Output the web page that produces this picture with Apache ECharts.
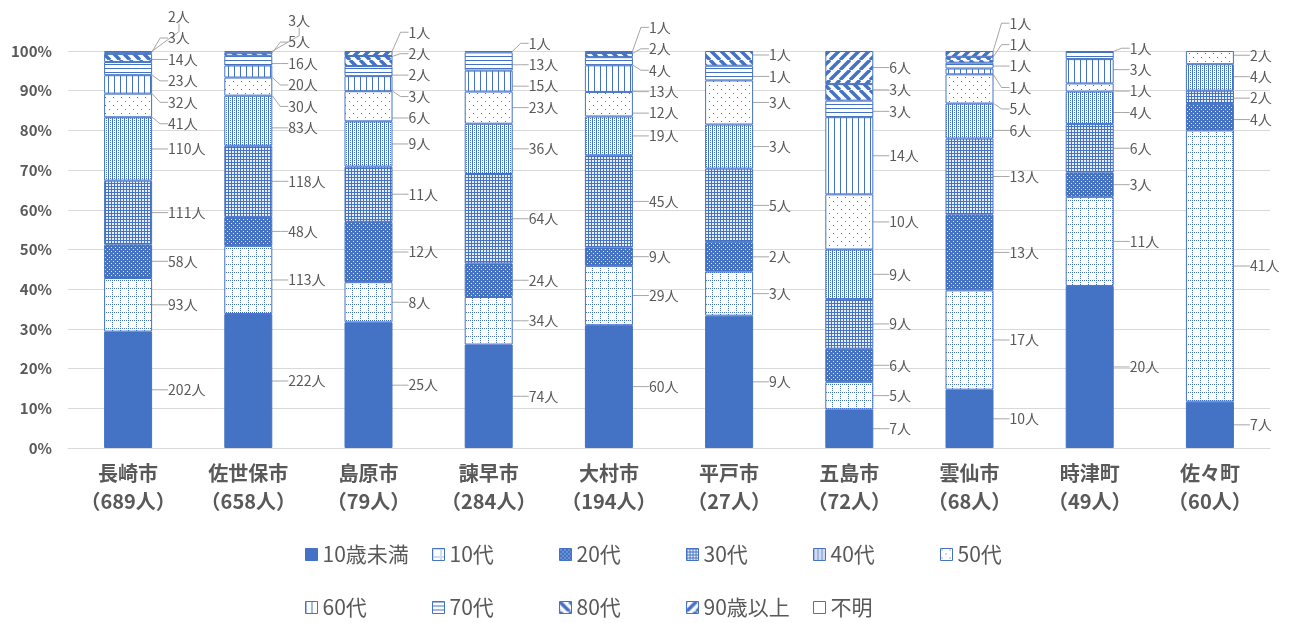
<!DOCTYPE html>
<html><head><meta charset="utf-8">
<script src="https://cdn.jsdelivr.net/npm/echarts@6/dist/echarts.min.js"></script>
<style>html,body{margin:0;padding:0;background:#fff}#c{width:1295px;height:623px}</style>
</head><body><div id="c"></div><script>
const cities = ['長崎市','佐世保市','島原市','諫早市','大村市','平戸市','五島市','雲仙市','時津町','佐々町'];
const totals = [689,658,79,284,194,27,72,68,49,60];
const seriesNames = ['10歳未満','10代','20代','30代','40代','50代','60代','70代','80代','90歳以上','不明'];
// counts (persons) per age group, in city order
const age0    = [202,222,25,74,60,9,7,10,20,7];
const age10   = [93,113,8,34,29,3,5,17,11,41];
const age20   = [58,48,12,24,9,2,6,13,3,4];
const age30   = [111,118,11,64,45,5,9,13,6,2];
const age40   = [110,83,9,36,19,3,9,6,4,4];
const age50   = [41,30,6,23,12,3,10,5,1,2];
const age60   = [32,20,3,15,13,0,14,1,3,0];
const age70   = [23,16,2,13,4,1,3,1,1,0];
const age80   = [14,5,2,0,2,1,3,1,0,0];
const age90   = [3,3,1,1,1,0,6,1,0,0];
const unknown = [2,0,0,0,0,0,0,0,0,0];
const yTicks = { min: 0, max: 100, interval: 10 };

const counts = [age0,age10,age20,age30,age40,age50,age60,age70,age80,age90,unknown];
const BLUE = '#4472C4';
const FONT = '"Noto Sans CJK JP","Noto Sans",sans-serif';

function pat(w, h, draw) {
  const c = document.createElement('canvas'); c.width = w; c.height = h;
  const x = c.getContext('2d'); draw(x, w, h);
  return { image: c, repeat: 'repeat' };
}
function px(x, pts) { x.fillStyle = BLUE; pts.forEach(p => x.fillRect(p[0], p[1], 1, 1)); }
const patterns = [
  BLUE,
  pat(8, 8, (x) => { x.fillStyle = '#fff'; x.fillRect(0,0,8,8); const p=[]; for (let i=0;i<8;i+=2){p.push([0,i]);p.push([i,0]);} px(x,p); }),
  pat(4, 4, (x) => { x.fillStyle = BLUE; x.fillRect(0,0,4,4); x.fillStyle = '#dfe7f6'; x.fillRect(1,1,1,1); x.fillRect(3,3,1,1); }),
  pat(3, 3, (x) => { x.fillStyle = '#e9eef8'; x.fillRect(0,0,3,3); x.fillStyle = BLUE; x.fillRect(0,0,1,3); x.fillRect(0,0,3,1); }),
  pat(4, 4, (x) => { x.fillStyle = '#fff'; x.fillRect(0,0,4,4); x.fillStyle = BLUE; x.fillRect(0,0,1,4); x.fillRect(2,0,1,1); x.fillRect(2,2,1,1); }),
  pat(8, 8, (x) => { x.fillStyle = '#fff'; x.fillRect(0,0,8,8); px(x, [[1,1],[5,5]]); }),
  pat(6, 1, (x) => { x.fillStyle = '#fff'; x.fillRect(0,0,6,1); px(x, [[0,0]]); }),
  pat(1, 4, (x) => { x.fillStyle = '#fff'; x.fillRect(0,0,1,4); px(x, [[0,0]]); }),
  pat(10, 10, (x) => { x.fillStyle = '#fff'; x.fillRect(0,0,10,10); x.strokeStyle = BLUE; x.lineWidth = 3.5; x.beginPath(); [-10,0,10].forEach(k => { x.moveTo(k,0); x.lineTo(k+10,10); }); x.stroke(); }),
  pat(10, 10, (x) => { x.fillStyle = '#fff'; x.fillRect(0,0,10,10); x.strokeStyle = BLUE; x.lineWidth = 3.5; x.beginPath(); [-10,0,10].forEach(k => { x.moveTo(k+10,0); x.lineTo(k,10); }); x.stroke(); }),
  '#ffffff'
];

// percentage per segment and label positions (balanced spreading)
const sums = cities.map((c, i) => counts.reduce((a, arr) => a + arr[i], 0));
const pct = counts.map(arr => arr.map((v, i) => v / sums[i] * 100));
const labelPos = counts.map(() => cities.map(() => null));
const GAP = 5.4;
cities.forEach((c, i) => {
  let cum = 0; const items = [];
  counts.forEach((arr, s) => {
    const p = pct[s][i];
    if (arr[i] > 0) items.push({ s, c: cum + p / 2 });
    cum += p;
  });
  let clusters = items.map((it) => ({ members: [it] }));
  const place = (cl) => { let m = 0; cl.members.forEach((it, j) => m += it.c - j * GAP); cl.start = Math.max(0, m / cl.members.length); };
  clusters.forEach(place);
  let changed = true;
  while (changed) {
    changed = false;
    for (let k = 0; k < clusters.length - 1; k++) {
      const a = clusters[k], b = clusters[k + 1];
      const aTop = a.start + (a.members.length - 1) * GAP;
      if (b.start - aTop < GAP - 1e-9) {
        a.members = a.members.concat(b.members); place(a);
        clusters.splice(k + 1, 1); changed = true; break;
      }
    }
  }
  clusters.forEach(cl => cl.members.forEach((it, j) => { labelPos[it.s][i] = cl.start + j * GAP; }));
});

const chart = echarts.init(document.getElementById('c'));
const series = seriesNames.map((name, s) => ({
  name, type: 'bar', stack: 'all', barWidth: 48,
  data: cities.map((c, i) => counts[s][i] > 0 ? { value: pct[s][i], count: counts[s][i] } : '-'),
  itemStyle: { color: patterns[s], borderColor: BLUE, borderWidth: 1 },
  label: { show: true, position: 'right', formatter: (p) => p.data.count + '人', fontSize: 14, color: '#595959', fontFamily: FONT },
  labelLine: { show: true, length2: 8, lineStyle: { color: '#a6a6a6', width: 1 } },
  labelLayout: function (p) {
    const L = labelPos[p.seriesIndex][p.dataIndex];
    if (L == null) return {};
    const y = chart.convertToPixel({ yAxisIndex: 0 }, L);
    return { x: p.rect.x + p.rect.width + 16, y: y, align: 'left', verticalAlign: 'middle' };
  },
  emphasis: { disabled: true }
}));
const legends = seriesNames.map((n, k) => {
  const row = k < 6 ? 0 : 1, col = row ? k - 6 : k;
  return {
    data: [{ name: n, icon: 'rect' }], left: 305 + col * 127, top: row ? 597 : 544, padding: 0,
    itemWidth: 12, itemHeight: 12,
    selectedMode: false, itemStyle: { borderColor: BLUE, borderWidth: 1 },
    textStyle: { fontSize: 21, color: '#595959', fontFamily: FONT }
  };
});
chart.setOption({
  animation: false,
  backgroundColor: '#fff',
  textStyle: { fontFamily: FONT },
  grid: { left: 68, right: 25, top: 51, bottom: 175 },
  legend: legends,
  xAxis: {
    type: 'category', data: cities.map((c, i) => c + '\n（' + totals[i] + '人）'),
    axisLine: { lineStyle: { color: '#d9d9d9' } }, axisTick: { show: false },
    axisLabel: { interval: 0, fontSize: 20, fontWeight: 'bold', lineHeight: 28, color: '#595959', margin: 11, fontFamily: FONT }
  },
  yAxis: {
    type: 'value', min: yTicks.min, max: yTicks.max, interval: yTicks.interval,
    axisLabel: { formatter: '{value}%', fontSize: 15, fontWeight: 'bold', color: '#595959', margin: 16, fontFamily: FONT },
    splitLine: { lineStyle: { color: '#d9d9d9' } }, axisLine: { show: false }, axisTick: { show: false }
  },
  series
});
</script></body></html>
